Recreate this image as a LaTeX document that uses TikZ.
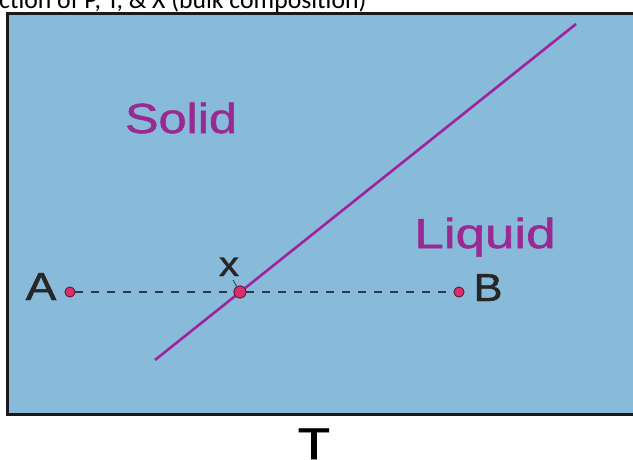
\documentclass[tikz,border=0pt]{standalone}
\usepackage{fontspec}
\setmainfont{Liberation Sans}
\newfontfamily\labfont[FakeBold=1.2]{Liberation Sans}
\newfontfamily\titlefont{Carlito}
\definecolor{bgblue}{HTML}{88BAD9}
\definecolor{phase}{HTML}{A0239E}
\definecolor{phasetext}{HTML}{9A2A92}
\definecolor{dotfill}{HTML}{D8306E}
\definecolor{dotline}{HTML}{6A1838}
\definecolor{dashgrey}{HTML}{2E3A44}
\begin{document}
\begin{tikzpicture}[x=1pt,y=-1pt,
  region/.style={text=phasetext, inner sep=0pt, font=\labfont\fontsize{42}{42}\selectfont},
  lbl/.style={text=black!85, inner sep=0pt, font=\labfont\fontsize{39}{39}\selectfont},
  pt/.style={circle, fill=dotfill, draw=dotline, line width=0.8pt, inner sep=0pt, minimum size=10pt},
  boundary/.style={draw=phase, line width=2.6pt},
  tie/.style={draw=dashgrey, line width=1.7pt, dash pattern=on 8pt off 8pt}]
\useasboundingbox (0,0) rectangle (633,459);
\clip (0,0) rectangle (633,459);
% cut-off caption
\node[anchor=base west, inner sep=0pt, font=\titlefont\fontsize{25.7}{25.7}\selectfont] (cap) at (-1,8) {ction of P, T, \& X (bulk composition)};
% diagram box
\draw[fill=bgblue, draw=black!90, line width=3pt] (7,13) rectangle (640,414);
% phase boundary
\coordinate (lo) at (155,360);
\coordinate (hi) at (576,24);
\draw[boundary] (lo) -- (hi);
% labels
\node[region, anchor=base] (solid) at (181,133) {\scalebox{1.2}[1]{Solid}};
\node[region, anchor=base] (liquid) at (485,248) {\scalebox{1.26}[1]{Liquid}};
% points
\node[pt] (A) at (70,292) {};
\node[pt] (B) at (459,292) {};
\node[pt, minimum size=12pt] (X) at (240,292) {};
\draw[tie] (A) -- (X);
\draw[tie] (X) -- (B);
\node[pt] at (A) {};
\node[pt] at (B) {};
\node[pt, minimum size=12pt] at (X) {};
\node[lbl, anchor=base] (Alab) at (41,300) {\scalebox{1.18}[1]{A}};
\node[lbl, anchor=base] (Blab) at (488,301) {\scalebox{1.12}[1]{B}};
\node[lbl, anchor=base, font=\labfont\fontsize{35}{35}\selectfont] (xlab) at (229,276) {\scalebox{1.15}[1]{x}};
\draw[dashgrey, line width=0.8pt] (233,280) -- (X);
% axis label
\node[anchor=base, inner sep=0pt, font=\labfont\fontsize{44}{44}\selectfont] (T) at (314,459) {\scalebox{1.2}[1]{T}};
\end{tikzpicture}
\end{document}
